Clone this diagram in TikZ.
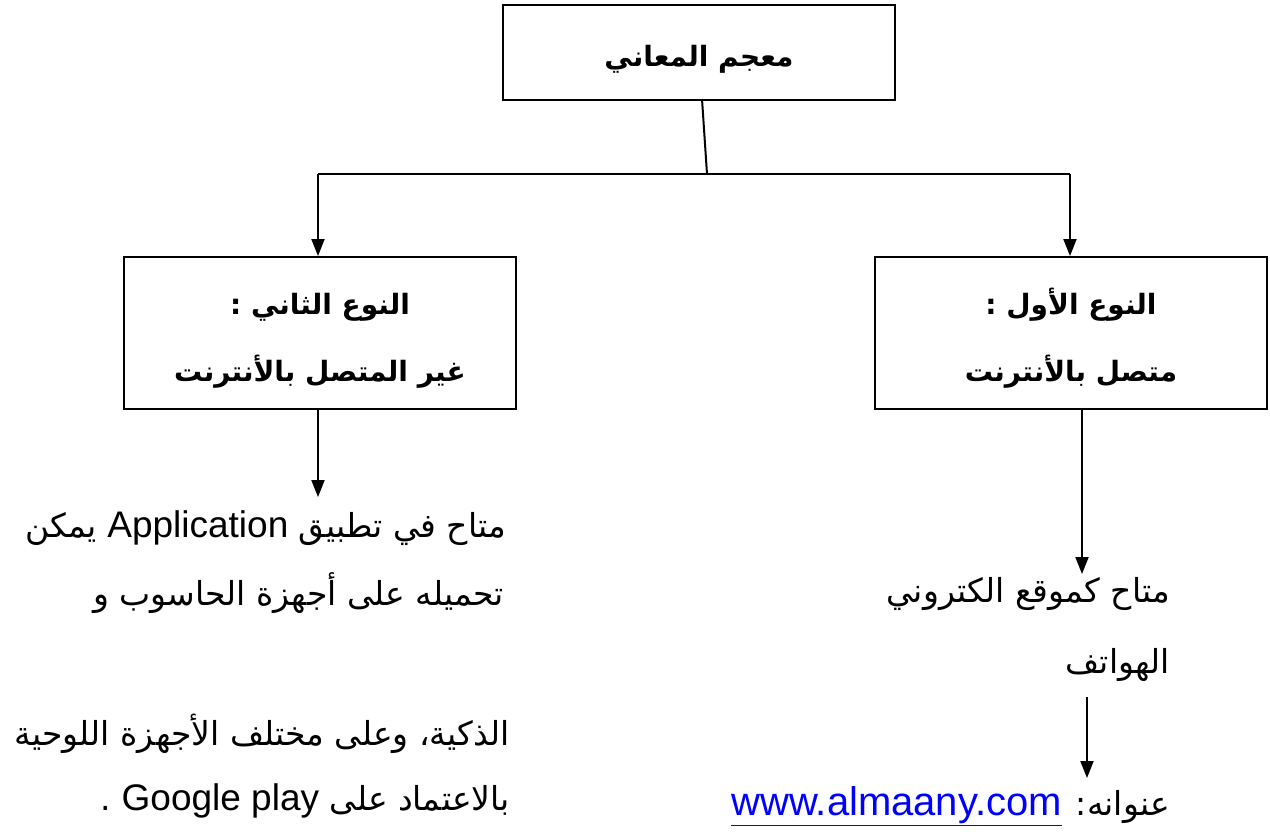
\documentclass[tikz,border=0pt]{standalone}
\usepackage{fontspec}
\usepackage{xcolor}
\usepackage{tikz}
\usetikzlibrary{positioning,calc,arrows.meta}
\TeXXeTstate=1
\newfontfamily\arabicfont[Script=Arabic]{DejaVu Sans}
\newfontfamily\latinfont{Liberation Sans}
\definecolor{linkblue}{RGB}{0,0,255}
\newcommand{\lat}[2][37]{\beginL{\latinfont\fontsize{#1}{40}\selectfont #2}\endL{}}
\newcommand{\boxlines}[2]{\raisebox{-8pt}[0pt][0pt]{\begin{tabular}{@{}c@{}}#1\\#2\end{tabular}}}

\tikzset{
    box/.style={draw, line width=2pt, minimum width=392pt, minimum height=152pt,
        font=\arabicfont\bfseries\fontsize{28}{67}\selectfont},
    arr/.style={-{Triangle[width=13pt,length=17pt]}, line width=2pt},
    txt/.style={anchor=base east, inner sep=0pt, font=\arabicfont\fontsize{33}{38}\selectfont}
}

\begin{document}
\begin{tikzpicture}[x=1pt, y=-1pt]
    \useasboundingbox (0,0) rectangle (1270,831);

    % Boxes
    \node[box, minimum height=95pt] (root) at (699,52) {\raisebox{-14pt}[0pt][0pt]{\beginR معجم المعاني\endR}};
    \node[box] (second) at (320,333) {\boxlines{\beginR النوع الثاني :\endR}{\beginR غير المتصل بالأنترنت\endR}};
    \node[box] (first) at (1071,333) {\boxlines{\beginR النوع الأول :\endR}{\beginR متصل بالأنترنت\endR}};

    % Branching
    \coordinate (split) at (707,174);
    \coordinate (lsplit) at (318,174);
    \coordinate (rsplit) at (1070,174);
    \draw[line width=2pt] (702,99) -- (split);
    \draw[line width=2pt] (lsplit) -- (rsplit);
    \draw[arr] (lsplit) -- (lsplit |- second.north);
    \draw[arr] (rsplit) -- (rsplit |- first.north);

    % Second type text
    \node[txt] (s1) at (506,537) {\beginR متاح في تطبيق \lat{Application} يمكن\endR};
    \node[txt] (s2) at (504,605) {\beginR تحميله على أجهزة الحاسوب و\endR};
    \node[txt] (s3) at (510,745) {\beginR الذكية، وعلى مختلف الأجهزة اللوحية\endR};
    \node[txt] (s4) at (510,810) {\beginR بالاعتماد على \lat{Google play} .\endR};
    \coordinate (send) at (318,497);
    \draw[arr] (second.south -| send) -- (send);

    % First type text
    \node[txt] (f1) at (1170,602) {\beginR متاح كموقع الكتروني\endR};
    \node[txt] (f2) at (1170,673) {\beginR الهواتف\endR};
    \node[txt] (f3) at (1170,815) {\beginR عنوانه: \lat[40]{\color{linkblue}\underline{www.almaany.com}}\endR};
    \coordinate (fend) at (1082,574);
    \draw[arr] (first.south -| fend) -- (fend);
    \coordinate (gtop) at (1087,697);
    \coordinate (gend) at (1087,778);
    \draw[arr] (gtop) -- (gend);
\end{tikzpicture}
\end{document}
